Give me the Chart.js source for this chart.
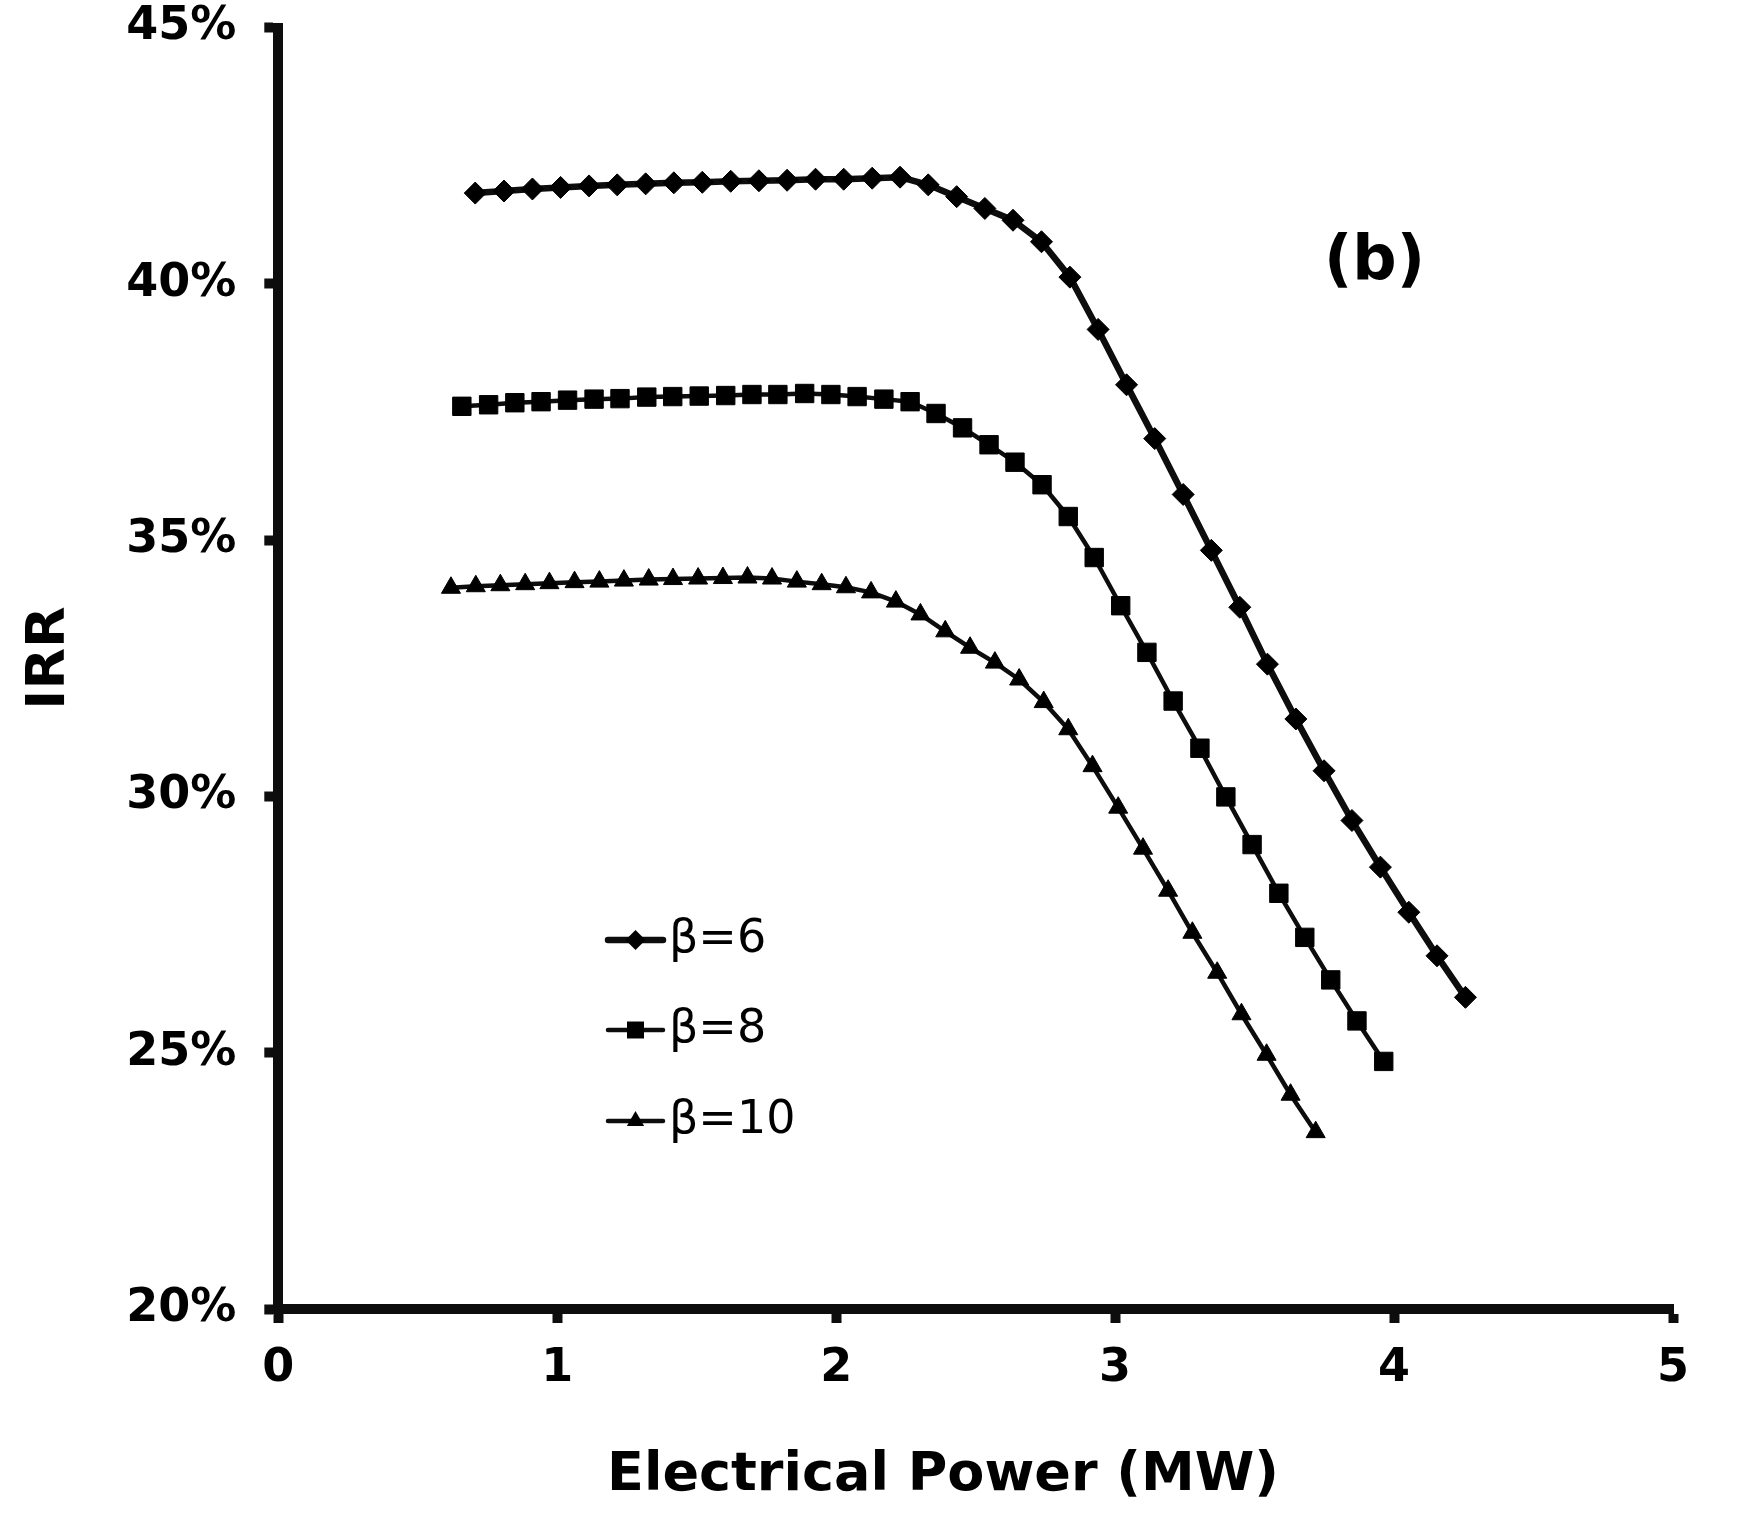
<!DOCTYPE html>
<html>
<head>
<meta charset="utf-8">
<script src="https://cdn.jsdelivr.net/npm/chart.js"></script>
<style>
  body { margin: 0; background: #fff; }
  #wrap { width: 1741px; height: 1526px; position: relative; }
</style>
</head>
<body>
<div id="wrap"><canvas id="myChart"></canvas></div>
<script>
// DATA
const power_b6 = [0.706, 0.809, 0.911, 1.012, 1.114, 1.215, 1.317, 1.418, 1.520, 1.622, 1.723, 1.824,
  1.926, 2.027, 2.129, 2.229, 2.330, 2.432, 2.533, 2.634, 2.736, 2.838, 2.939, 3.041,
  3.142, 3.244, 3.345, 3.447, 3.546, 3.648, 3.749, 3.849, 3.951, 4.053, 4.154, 4.256];
const irr_b6 = [41.77, 41.81, 41.85, 41.88, 41.91, 41.93, 41.95, 41.97, 41.98, 42.00, 42.01, 42.02,
  42.04, 42.04, 42.06, 42.08, 41.93, 41.70, 41.47, 41.24, 40.82, 40.13, 39.11, 38.03,
  36.98, 35.89, 34.80, 33.69, 32.58, 31.51, 30.50, 29.53, 28.62, 27.74, 26.89, 26.08];

const power_b8 = [0.658, 0.754, 0.848, 0.942, 1.037, 1.132, 1.225, 1.321, 1.414, 1.509, 1.604, 1.698,
  1.791, 1.887, 1.981, 2.075, 2.171, 2.265, 2.358, 2.453, 2.548, 2.641, 2.738, 2.832,
  2.925, 3.020, 3.114, 3.208, 3.304, 3.397, 3.491, 3.587, 3.680, 3.773, 3.867, 3.963];
const irr_b8 = [37.61, 37.64, 37.68, 37.70, 37.73, 37.75, 37.76, 37.79, 37.80, 37.81, 37.82, 37.84,
  37.84, 37.86, 37.84, 37.80, 37.75, 37.70, 37.47, 37.19, 36.86, 36.52, 36.08, 35.46,
  34.66, 33.72, 32.81, 31.86, 30.94, 29.99, 29.06, 28.11, 27.25, 26.42, 25.62, 24.83];

const power_b10 = [0.619, 0.708, 0.796, 0.885, 0.972, 1.062, 1.151, 1.239, 1.328, 1.415, 1.505, 1.594,
  1.682, 1.770, 1.859, 1.948, 2.035, 2.125, 2.214, 2.302, 2.391, 2.480, 2.569, 2.656,
  2.744, 2.832, 2.919, 3.011, 3.100, 3.190, 3.277, 3.366, 3.453, 3.543, 3.629, 3.719];
const irr_b10 = [34.07, 34.10, 34.12, 34.14, 34.16, 34.18, 34.19, 34.21, 34.23, 34.24, 34.25, 34.26,
  34.27, 34.25, 34.19, 34.14, 34.08, 33.98, 33.80, 33.55, 33.22, 32.90, 32.61, 32.28,
  31.84, 31.31, 30.59, 29.78, 28.98, 28.16, 27.34, 26.56, 25.75, 24.96, 24.18, 23.45];

const seriesNames = ['β=6', 'β=8', 'β=10'];
const xTicks = [0, 1, 2, 3, 4, 5];
const yTicks = [20, 25, 30, 35, 40, 45];
const xTitle = 'Electrical Power (MW)';
const yTitle = 'IRR';
const panelLabel = '(b)';

// ESTILOS
const INK = '#0d0d0d';
const FONT = '"DejaVu Sans", Verdana, sans-serif';
const estilos = [
  { pointStyle: 'rectRot', radius: 11, legendRadius: 10, width: 6.5 },
  { pointStyle: 'rect', radius: 13, legendRadius: 12, width: 4.5 },
  { pointStyle: 'triangle', radius: 11, legendRadius: 10, width: 4.5 }
];
const LEGEND = { x0: 608, x1: 663, textX: 669, rows: [940, 1030, 1121], font: '46px ' + FONT };
const PANEL_AT = { x: 3.93, y: 40.4 };

function toPoints(xs, ys) {
  return xs.map((x, i) => ({ x: x, y: ys[i] }));
}
const series = [toPoints(power_b6, irr_b6), toPoints(power_b8, irr_b8), toPoints(power_b10, irr_b10)];

const datasets = series.map((pts, i) => ({
  label: seriesNames[i],
  data: pts,
  borderColor: INK,
  backgroundColor: INK,
  borderWidth: estilos[i].width,
  borderJoinStyle: 'round',
  borderCapStyle: 'round',
  pointStyle: estilos[i].pointStyle,
  pointRadius: estilos[i].radius,
  pointBackgroundColor: '#000',
  pointBorderColor: '#000',
  pointBorderWidth: 1,
  tension: 0
}));

// marker for the legend
function marker(ctx, style, r, x, y) {
  ctx.beginPath();
  if (style === 'rectRot') {
    ctx.moveTo(x, y - r); ctx.lineTo(x + r, y); ctx.lineTo(x, y + r); ctx.lineTo(x - r, y);
  } else if (style === 'rect') {
    const s = Math.SQRT1_2 * r;
    ctx.rect(x - s, y - s, 2 * s, 2 * s);
  } else {
    ctx.moveTo(x, y - r);
    ctx.lineTo(x + r * Math.sin(2 * Math.PI / 3), y + r / 2);
    ctx.lineTo(x - r * Math.sin(2 * Math.PI / 3), y + r / 2);
  }
  ctx.closePath();
  ctx.fill();
}

const textos = {
  id: 'textos',
  afterDraw(chart) {
    const ctx = chart.ctx;
    const xs = chart.scales.x, ys = chart.scales.y;
    ctx.save();
    ctx.fillStyle = '#000';
    // axis titles
    ctx.font = 'bold 54px ' + FONT;
    ctx.textAlign = 'center';
    ctx.textBaseline = 'middle';
    ctx.fillText(xTitle, 943, 1476);
    ctx.save();
    ctx.translate(50, 658);
    ctx.rotate(-Math.PI / 2);
    ctx.fillText(yTitle, 0, 0);
    ctx.restore();
    // panel label
    ctx.font = 'bold 62px ' + FONT;
    ctx.fillText(panelLabel, xs.getPixelForValue(PANEL_AT.x), ys.getPixelForValue(PANEL_AT.y));
    // legend
    ctx.font = LEGEND.font;
    ctx.textAlign = 'left';
    seriesNames.forEach((name, i) => {
      const y = LEGEND.rows[i];
      ctx.strokeStyle = INK;
      ctx.lineWidth = estilos[i].width;
      ctx.lineCap = 'round';
      ctx.beginPath();
      ctx.moveTo(LEGEND.x0, y);
      ctx.lineTo(LEGEND.x1, y);
      ctx.stroke();
      ctx.fillStyle = '#000';
      marker(ctx, estilos[i].pointStyle, estilos[i].legendRadius, (LEGEND.x0 + LEGEND.x1) / 2, y);
      ctx.fillText(name, LEGEND.textX, y);
    });
    ctx.restore();
  }
};

const tickFont = { family: FONT, size: 46, weight: 'bold' };

const config = {
  type: 'line',
  data: { datasets: datasets },
  options: {
    responsive: true,
    maintainAspectRatio: false,
    devicePixelRatio: 1,
    animation: false,
    layout: { padding: { left: 0, right: 68, top: 0, bottom: 0 } },
    plugins: { legend: { display: false }, tooltip: { enabled: false } },
    scales: {
      x: {
        type: 'linear',
        min: 0, max: 5,
        afterBuildTicks: axis => { axis.ticks = xTicks.map(v => ({ value: v })); },
        afterFit: axis => { axis.height = 217; },
        grid: { display: true, drawOnChartArea: false, drawTicks: true, tickLength: 14, tickWidth: 10, tickColor: INK },
        border: { display: true, width: 10, color: INK },
        ticks: { color: '#000', font: tickFont, padding: 18, maxRotation: 0, autoSkip: false }
      },
      y: {
        type: 'linear',
        min: 20, max: 45,
        afterBuildTicks: axis => { axis.ticks = yTicks.map(v => ({ value: v })); },
        afterFit: axis => {
          axis.width = 278.3;
          // keep the plot top where the 45% tick sits in the picture
          axis.paddingTop = 27.5;
          axis.paddingBottom = 0;
        },
        grid: { display: true, drawOnChartArea: false, drawTicks: true, tickLength: 14, tickWidth: 10, tickColor: INK },
        border: { display: true, width: 10, color: INK },
        ticks: { color: '#000', font: tickFont, padding: 28, autoSkip: false, callback: v => v + '%' }
      }
    }
  },
  plugins: [textos]
};

const myChart = new Chart(document.getElementById('myChart'), config);
</script>
</body>
</html>
